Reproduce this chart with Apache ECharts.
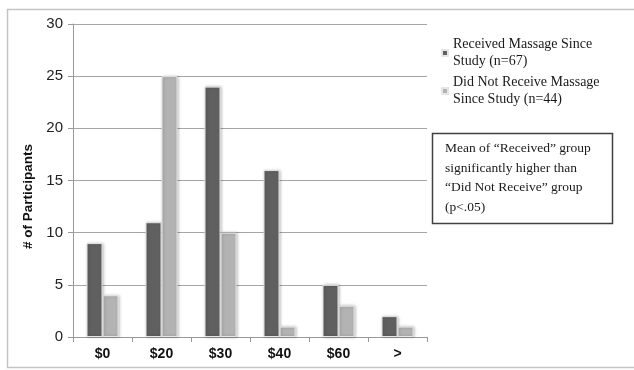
<!DOCTYPE html>
<html>
<head>
<meta charset="utf-8">
<script src="https://cdn.jsdelivr.net/npm/echarts@6/dist/echarts.min.js"></script>
<style>
  html, body { margin: 0; padding: 0; background: #fff; }
  #chart { width: 634px; height: 370px; }
</style>
</head>
<body>
<div id="chart"></div>
<script>
const categories = ["$0", "$20", "$30", "$40", "$60", ">"];
const received = [9, 11, 24, 16, 5, 2];
const notReceived = [4, 25, 10, 1, 3, 1];
const yTicks = [0, 5, 10, 15, 20, 25, 30];

const serif = "'Liberation Serif', 'DejaVu Serif', serif";
let myChart = echarts.init(document.getElementById("chart"));

const barStyle = (color) => ({
  color: color,
  borderColor: "#e6e6e6",
  borderWidth: 1,
  shadowBlur: 3,
  shadowColor: "rgba(0,0,0,0.25)",
  shadowOffsetX: 1,
  shadowOffsetY: 0,
});

myChart.setOption({
  animation: false,
  grid: { left: 73, top: 24, right: 207, bottom: 33 },
  legend: {
    orient: "vertical",
    left: 441,
    top: 36,
    padding: 0,
    icon: "rect",
    itemWidth: 6,
    itemHeight: 6,
    itemGap: 4,
    textStyle: { fontFamily: serif, fontSize: 14, color: "#1a1a1a", lineHeight: 17 },
    data: ["Received Massage Since\nStudy (n=67)", "Did Not Receive Massage\nSince Study (n=44)"],
  },
  xAxis: {
    type: "category",
    data: categories,
    axisLine: { lineStyle: { color: "#999", width: 1 } },
    axisTick: { show: true, length: 5, lineStyle: { color: "#999" } },
    axisLabel: { fontFamily: "Arial, 'Liberation Sans', sans-serif", fontWeight: "bold", fontSize: 14, color: "#111", margin: 10 },
  },
  yAxis: {
    type: "value",
    min: yTicks[0],
    max: yTicks[yTicks.length - 1],
    interval: 5,
    name: "# of Participants",
    nameLocation: "middle",
    nameGap: 24,
    nameTextStyle: {
      fontFamily: "Arial, 'Liberation Sans', sans-serif",
      fontWeight: "bold",
      fontSize: 13.5,
      color: "#111",
      padding: [0, 32, 0, 0],
    },
    axisLine: { show: true, lineStyle: { color: "#999" } },
    axisTick: { show: true, length: 5, lineStyle: { color: "#999" } },
    splitLine: { lineStyle: { color: "#a6a6a6", width: 1 } },
    axisLabel: { fontFamily: "Arial, 'Liberation Sans', sans-serif", fontSize: 15, color: "#222", margin: 10 },
  },
  series: [
    {
      name: "Received Massage Since\nStudy (n=67)",
      type: "bar",
      data: received,
      barWidth: 16,
      barGap: "0%",
      itemStyle: barStyle("#606060"),
    },
    {
      name: "Did Not Receive Massage\nSince Study (n=44)",
      type: "bar",
      data: notReceived,
      barWidth: 16,
      itemStyle: barStyle("#b3b3b3"),
    },
  ],
  graphic: [
    {
      type: "rect",
      shape: { x: 7.5, y: 9.5, width: 640, height: 358 },
      style: { fill: "none", stroke: "#c4c4c4", lineWidth: 1.5 },
      silent: true,
      z: -1,
    },
    {
      type: "rect",
      shape: { x: 432.5, y: 133.5, width: 180, height: 90 },
      style: { fill: "#fff", stroke: "#404040", lineWidth: 1.5 },
    },
    {
      type: "text",
      left: 445,
      top: 139,
      style: {
        text: "Mean of \u201cReceived\u201d group\nsignificantly higher than\n\u201cDid Not Receive\u201d group\n(p<.05)",
        font: "13.5px " + serif,
        fill: "#1a1a1a",
        lineHeight: 19.5,
      },
    },
  ],
});
</script>
</body>
</html>
